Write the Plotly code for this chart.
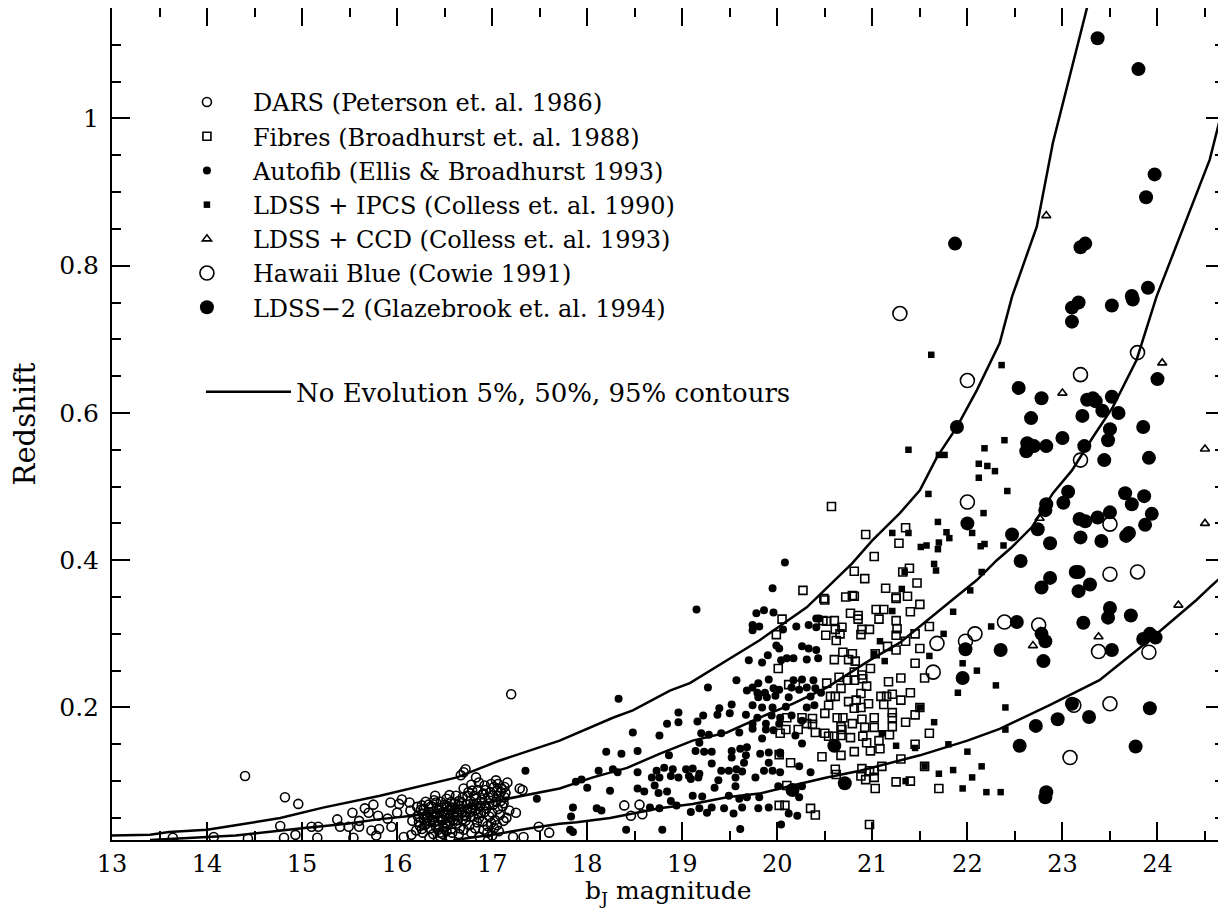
import plotly.graph_objects as go

# ---------------- data ----------------
dars_pts = [(13.64,0.023),(14.07,0.024),(14.43,0.022),(14.40,0.107),(14.81,0.023),(14.82,0.078),(14.96,0.069),(14.77,0.039),
 (14.93,0.027),(15.10,0.038),(15.17,0.038),(15.16,0.023),(15.37,0.048),(15.40,0.038),(15.49,0.038),(15.53,0.057),(15.54,0.023),
 (15.60,0.046),(15.60,0.038),(15.66,0.063),(15.70,0.057),(15.73,0.033),(15.75,0.068),(15.78,0.026),(15.80,0.053),(15.81,0.035),
 (15.90,0.049),(15.93,0.071),(15.94,0.038),(16.00,0.057),(16.02,0.069),(16.05,0.075),(16.07,0.024),(16.13,0.071),(16.14,0.060),
 (16.15,0.027),(16.16,0.046),(16.20,0.033),(16.24,0.039),(16.26,0.067),(16.27,0.056),(16.31,0.042),(16.41,0.071),(16.42,0.056),
 (16.43,0.046),(16.47,0.064),(16.49,0.037),(16.52,0.076),(16.54,0.050),(16.58,0.064),(16.62,0.042),(16.65,0.073),(16.67,0.108),
 (16.68,0.057),(16.70,0.090),(16.70,0.112),(16.72,0.046),(16.72,0.116),(16.77,0.073),(16.79,0.064),(16.83,0.105),(16.86,0.098),
 (16.86,0.050),(16.87,0.024),(16.91,0.083),(16.93,0.067),(16.95,0.039),(17.00,0.057),(17.00,0.026),(17.04,0.101),(17.05,0.087),
 (17.09,0.073),(17.12,0.046),(17.16,0.098),(17.18,0.060),(17.20,0.218),(17.22,0.024),(17.25,0.057),(17.29,0.090),(17.32,0.088),
 (17.33,0.024),(17.49,0.038),(18.39,0.067),(18.55,0.068),(18.46,0.053),(18.58,0.055),
 (16.22,0.052),(16.25,0.061),(16.28,0.048),(16.30,0.072),(16.33,0.058),(16.35,0.036),(16.36,0.066),(16.38,0.051),(16.39,0.044),
 (16.40,0.080),(16.44,0.062),(16.45,0.030),(16.46,0.049),(16.48,0.058),(16.50,0.068),(16.51,0.043),(16.53,0.055),(16.55,0.081),
 (16.56,0.062),(16.57,0.035),(16.60,0.052),(16.61,0.070),(16.63,0.058),(16.64,0.047),(16.66,0.066),(16.69,0.078),(16.71,0.054),
 (16.74,0.062),(16.75,0.085),(16.76,0.040),(16.78,0.095),(16.80,0.052),(16.81,0.080),(16.82,0.060),(16.84,0.070),(16.85,0.088),
 (16.88,0.058),(16.89,0.075),(16.90,0.045),(16.92,0.094),(16.94,0.063),(16.96,0.078),(16.97,0.052),(16.98,0.085),(17.01,0.068),
 (17.02,0.092),(17.03,0.047),(17.06,0.062),(17.07,0.080),(17.08,0.054),(17.10,0.090),(17.11,0.066),(17.13,0.078),(17.14,0.084),
 (17.15,0.050),(16.34,0.023),(16.56,0.024),(16.65,0.028),(16.78,0.030),(16.95,0.030),(17.07,0.032),(16.45,0.025),(17.60,0.030),
 (16.29,0.040),(16.37,0.047),(16.41,0.038),(16.47,0.052),(16.53,0.041),(16.59,0.047),(16.66,0.036),(16.73,0.052),(16.84,0.044),
 (16.99,0.043),(17.05,0.040),(16.32,0.050),(16.43,0.034),(16.52,0.032),
 (16.21,0.065),(16.23,0.044),(16.26,0.035),(16.28,0.062),(16.31,0.054),(16.33,0.068),(16.34,0.045),(16.37,0.058),(16.39,0.074),
 (16.40,0.053),(16.42,0.064),(16.44,0.040),(16.46,0.072),(16.48,0.047),(16.50,0.056),(16.52,0.066),(16.54,0.060),(16.55,0.045),
 (16.57,0.072),(16.59,0.055),(16.61,0.062),(16.62,0.080),(16.64,0.054),(16.67,0.062),(16.68,0.070),(16.69,0.048),(16.73,0.068),
 (16.74,0.080),(16.77,0.058),(16.79,0.087),(16.80,0.068),(16.83,0.076),(16.85,0.056),(16.87,0.066),(16.90,0.082),(16.92,0.058),
 (16.93,0.088),(16.97,0.070),(16.99,0.096),(17.01,0.080),(17.04,0.072),(17.06,0.096),(17.09,0.085),(17.12,0.070),(17.13,0.092),
 (16.58,0.030),(16.70,0.034),(16.82,0.036),(16.91,0.034),(17.02,0.036),(16.27,0.030),(16.38,0.028),(16.48,0.028)]

fibres_pts = [(21.02,0.405),(20.81,0.385),(20.92,0.375),(21.14,0.362),(20.27,0.359),(20.50,0.346),(20.72,0.350),(20.81,0.351),
 (21.25,0.348),(21.04,0.333),(21.12,0.333),(20.77,0.328),(20.85,0.325),(20.85,0.320),(20.05,0.320),(20.48,0.318),(20.52,0.317),
 (20.60,0.318),(21.07,0.320),(21.25,0.318),(20.61,0.306),(20.68,0.309),(20.89,0.306),(20.97,0.306),(21.26,0.307),(19.99,0.299),
 (20.51,0.298),(20.66,0.300),(20.88,0.299),(21.25,0.298),(20.62,0.291),(20.69,0.275),(20.79,0.273),(21.03,0.273),(21.16,0.283),
 (21.25,0.278),(20.60,0.265),(20.75,0.265),(20.82,0.263),(20.01,0.253),(20.98,0.253),(20.81,0.248),(20.89,0.244),(20.65,0.241),
 (20.74,0.237),(20.81,0.237),(20.90,0.239),(20.94,0.229),(21.17,0.235),(20.12,0.231),(20.19,0.231),(20.52,0.233),(20.67,0.226),
 (20.88,0.219),(20.56,0.215),(20.61,0.215),(21.09,0.215),(21.15,0.215),(21.21,0.218),(20.75,0.208),(20.83,0.210),(20.96,0.205),
 (21.12,0.204),(20.54,0.203),(20.81,0.199),(20.88,0.200),(20.50,0.192),(21.21,0.193),(20.10,0.186),(20.26,0.186),(20.37,0.185),
 (20.63,0.186),(20.69,0.186),(20.89,0.184),(21.02,0.186),(21.21,0.186),(20.31,0.178),(20.79,0.178),(20.37,0.177),(21.21,0.174),
 (20.67,0.174),(20.68,0.170),(20.92,0.173),(21.02,0.173),(20.03,0.165),(20.09,0.170),(20.22,0.170),(20.40,0.166),(20.50,0.165),
 (20.54,0.161),(20.60,0.161),(20.67,0.162),(20.77,0.159),(20.90,0.161),(21.18,0.163),(20.94,0.152),(21.07,0.155),(20.98,0.141),
 (21.08,0.144),(20.81,0.140),(20.67,0.135),(20.02,0.136),(20.14,0.125),(20.47,0.133),(20.61,0.116),(20.62,0.109),(20.89,0.117),
 (20.97,0.114),(21.02,0.114),(21.10,0.120),(20.88,0.107),(20.93,0.102),(21.02,0.105),(21.25,0.099),(20.10,0.094),(21.03,0.090),
 (20.02,0.067),(20.08,0.067),(20.35,0.063),(20.40,0.054),(20.97,0.041),
 (20.57,0.473),(20.93,0.435),(21.35,0.444),(21.28,0.423),(21.39,0.389),(21.32,0.384),(21.47,0.369),(21.25,0.350),(20.79,0.352),
 (21.37,0.351),(20.49,0.348),(21.40,0.330),(21.45,0.300),(21.50,0.280),(21.45,0.260),(21.55,0.240),(21.40,0.220),(21.50,0.200),
 (21.35,0.180),(21.60,0.165),(21.45,0.150),(21.30,0.130),(21.55,0.120),(21.40,0.100),(21.70,0.090),(21.30,0.240),(21.35,0.290),
 (21.60,0.310),(21.30,0.210),(21.45,0.190),(21.50,0.340)]

autofib_pts = [(20.08,0.397),(19.95,0.362),(19.15,0.333),(19.78,0.328),(19.86,0.332),(19.96,0.329),(19.74,0.312),(19.81,0.310),
 (19.74,0.305),(20.06,0.306),(20.20,0.310),(20.33,0.312),(20.41,0.309),(20.41,0.321),(20.44,0.321),(19.99,0.284),(20.02,0.280),
 (20.26,0.283),(20.33,0.280),(20.41,0.278),(19.90,0.271),(19.70,0.264),(19.84,0.261),(20.04,0.264),(20.10,0.267),(20.17,0.267),
 (20.31,0.265),(20.43,0.267),(18.33,0.212),(19.27,0.227),(19.57,0.237),(19.74,0.227),(19.80,0.233),(19.91,0.238),(19.68,0.223),
 (19.79,0.220),(19.87,0.220),(19.96,0.226),(20.02,0.224),(20.17,0.237),(20.26,0.238),(20.38,0.237),(20.15,0.227),(20.23,0.224),
 (20.31,0.227),(20.40,0.226),(20.46,0.220),(19.80,0.214),(19.89,0.214),(19.98,0.216),(20.12,0.214),(20.35,0.215),(19.39,0.199),
 (19.52,0.204),(19.74,0.203),(19.84,0.200),(19.95,0.200),(20.09,0.201),(20.31,0.200),(20.39,0.203),(18.96,0.193),(19.22,0.189),
 (19.37,0.190),(19.50,0.192),(19.67,0.190),(19.79,0.186),(19.94,0.189),(20.03,0.186),(20.15,0.189),(20.26,0.182),(18.84,0.178),
 (18.96,0.180),(19.16,0.181),(19.74,0.178),(19.88,0.178),(20.02,0.178),(18.48,0.166),(18.76,0.162),(19.60,0.166),(19.74,0.171),
 (19.88,0.170),(19.96,0.169),(20.19,0.162),(19.20,0.165),(19.28,0.163),(19.41,0.165),(19.84,0.158),(19.18,0.152),(20.26,0.151),
 (18.20,0.140),(18.36,0.137),(18.53,0.141),(18.86,0.135),(19.14,0.141),(19.23,0.140),(19.31,0.140),(19.52,0.141),(19.61,0.144),
 (19.68,0.146),(19.52,0.132),(19.67,0.135),(19.82,0.137),(19.91,0.139),(20.03,0.137),(19.65,0.125),(19.91,0.125),(19.31,0.124),
 (18.12,0.114),(18.27,0.116),(18.32,0.112),(18.53,0.112),(18.73,0.114),(18.81,0.118),(18.90,0.116),(19.04,0.116),(19.11,0.117),
 (19.18,0.110),(19.41,0.114),(19.49,0.114),(19.57,0.116),(19.63,0.113),(19.86,0.114),(19.95,0.114),(20.03,0.112),(20.23,0.120),
 (20.35,0.112),(18.68,0.105),(18.76,0.105),(18.88,0.107),(18.96,0.105),(19.07,0.107),(19.09,0.103),(19.17,0.105),(19.38,0.101),
 (19.56,0.105),(19.77,0.105),(18.71,0.094),(17.88,0.099),(17.94,0.102),(18.00,0.091),(18.24,0.087),(18.53,0.090),(18.60,0.086),
 (18.75,0.084),(18.84,0.086),(19.34,0.091),(19.56,0.093),(20.01,0.093),(20.15,0.090),(20.26,0.093),(18.88,0.073),(19.11,0.080),
 (19.21,0.079),(19.49,0.080),(19.60,0.076),(19.68,0.078),(19.81,0.078),(20.23,0.078),(17.85,0.064),(18.10,0.063),(18.15,0.060),
 (18.66,0.064),(18.76,0.063),(18.94,0.067),(19.09,0.058),(19.18,0.063),(19.26,0.057),(19.31,0.064),(19.44,0.063),(19.54,0.056),
 (19.63,0.064),(19.80,0.063),(19.91,0.064),(20.12,0.056),(20.21,0.053),(17.83,0.052),(20.04,0.041),(18.41,0.034),(18.79,0.034),
 (19.61,0.035),(17.82,0.034),(17.85,0.031),(17.35,0.114),(17.47,0.076),(20.03,0.139)]

ipcs_pts = [(21.62,0.679),(22.36,0.665),(21.38,0.550),(21.70,0.543),(21.76,0.543),(22.18,0.552),(22.39,0.563),(22.12,0.531),
 (22.21,0.528),(22.29,0.521),(22.12,0.512),(22.42,0.494),(21.59,0.490),(22.17,0.464),(21.69,0.452),(21.21,0.437),(21.38,0.437),
 (21.78,0.438),(21.81,0.430),(22.05,0.437),(21.70,0.424),(21.69,0.415),(21.51,0.418),(21.57,0.420),(22.14,0.419),(22.18,0.422),
 (22.38,0.420),(21.65,0.395),(21.67,0.386),(22.15,0.384),(22.03,0.359),(21.31,0.361),(21.34,0.384),(21.21,0.331),(21.08,0.290),
 (21.13,0.263),(21.02,0.273),(21.10,0.165),(21.25,0.148),(21.85,0.330),(21.75,0.300),(21.60,0.270),(22.10,0.250),(22.30,0.230),
 (21.90,0.220),(21.50,0.200),(21.65,0.180),(21.80,0.150),(22.00,0.140),(22.15,0.120),(21.55,0.120),(21.70,0.110),(21.95,0.090),
 (22.20,0.085),(22.35,0.085),(21.35,0.100),(22.40,0.170),(21.95,0.260),(22.25,0.310),(22.40,0.200),(21.85,0.115),(22.05,0.105),
 (21.45,0.145)]

ccd_pts = [(22.83,0.868),(24.05,0.668),(23.00,0.627),(24.50,0.551),(24.50,0.450),(22.76,0.457),(24.22,0.339),(23.38,0.296),
 (22.69,0.284),(22.77,0.303)]

hawaii_pts = [(21.29,0.735),(22.00,0.644),(22.00,0.479),(23.79,0.682),(23.19,0.652),(23.19,0.536),(23.50,0.449),(23.50,0.381),
 (23.79,0.384),(21.68,0.287),(21.64,0.248),(21.98,0.290),(22.08,0.300),(22.39,0.316),(22.75,0.312),(23.38,0.276),(23.91,0.275),
 (23.12,0.203),(23.50,0.205),(23.08,0.132)]

ldss2_pts = [(23.10,0.743),(23.17,0.750),(23.10,0.724),(23.52,0.746),(23.74,0.754),(24.00,0.646),(22.54,0.634),(22.78,0.620),
 (22.67,0.593),(23.26,0.618),(23.32,0.620),(23.35,0.616),(23.52,0.622),(23.42,0.603),(23.59,0.600),(23.21,0.596),(23.50,0.578),
 (23.85,0.581),(21.89,0.581),(23.00,0.566),(22.63,0.559),(22.70,0.555),(22.62,0.548),(22.83,0.555),(23.23,0.555),(23.48,0.563),
 (23.44,0.536),(23.91,0.539),(22.00,0.450),(22.47,0.435),(22.83,0.476),(22.82,0.468),(22.74,0.442),(23.01,0.478),(23.06,0.493),
 (22.87,0.423),(23.18,0.456),(23.24,0.453),(23.37,0.458),(23.50,0.465),(23.19,0.431),(23.41,0.426),(23.66,0.491),(23.73,0.476),
 (23.86,0.487),(23.94,0.463),(23.87,0.448),(23.67,0.433),(23.70,0.437),(22.56,0.399),(23.14,0.384),(23.17,0.384),(22.87,0.376),
 (22.78,0.363),(23.29,0.367),(23.17,0.358),(23.37,1.109),(23.80,1.067),(23.97,0.924),(23.88,0.893),(21.87,0.830),(23.19,0.825),
 (23.24,0.830),(23.90,0.770),(23.73,0.759),
 (22.35,0.278),(22.52,0.316),(22.55,0.148),(22.72,0.175),(22.78,0.300),(22.82,0.290),(22.80,0.263),(22.83,0.085),(22.82,0.078),
 (22.95,0.184),(23.10,0.205),(23.22,0.315),(23.28,0.187),(23.50,0.335),(23.48,0.322),(23.52,0.278),(23.72,0.325),(23.77,0.147),
 (23.85,0.293),(23.92,0.300),(23.98,0.295),(23.92,0.199),(21.95,0.240),(21.98,0.279),(20.60,0.148),(20.16,0.088),(20.71,0.097)]

# No-evolution contours (95%, 50%, 5%)
c95_x = [13.0,13.4,13.6,14.0,14.3,14.5,14.77,15.22,15.82,16.63,17.08,17.71,17.89,18.27,18.48,18.87,19.08,19.47,19.81,20.31,20.79,
         21.0,21.29,21.50,21.68,21.89,22.10,22.34,22.47,22.73,22.90,23.26]
c95_y = [0.026,0.027,0.031,0.034,0.040,0.044,0.050,0.064,0.080,0.105,0.128,0.155,0.165,0.186,0.196,0.223,0.233,0.264,0.291,0.336,0.396,
         0.427,0.464,0.495,0.540,0.581,0.631,0.695,0.758,0.853,0.967,1.151]
c50_x = [13.4,13.8,14.0,14.3,14.77,15.0,15.47,15.8,16.16,16.6,17.0,17.4,17.71,18.06,18.42,18.76,19.11,19.47,19.81,20.16,20.52,20.97,
         21.29,21.84,22.10,22.31,22.47,22.68,22.90,23.10,23.32,23.53,23.78,23.99,24.55,24.71]
c50_y = [0.020,0.022,0.024,0.026,0.033,0.036,0.042,0.048,0.053,0.062,0.072,0.082,0.090,0.105,0.118,0.137,0.155,0.166,0.186,0.205,0.227,
         0.264,0.288,0.346,0.373,0.400,0.418,0.445,0.491,0.522,0.567,0.608,0.672,0.758,0.944,1.026]
c05_x = [16.6,17.0,17.4,17.71,17.89,18.24,18.76,19.11,19.47,19.81,20.16,20.52,20.87,21.29,21.5,22.0,22.34,22.86,23.39,23.91,24.41,
         24.55,24.71]
c05_y = [0.020,0.027,0.036,0.042,0.044,0.050,0.063,0.069,0.078,0.083,0.094,0.105,0.114,0.128,0.135,0.155,0.171,0.203,0.237,0.291,
         0.346,0.363,0.382]

x_range = [13, 24.7]
y_range = [0.02, 1.15]
x_title = "b<sub>J</sub> magnitude"
y_title = "Redshift"

FONT = "DejaVu Serif"
fig = go.Figure()

def add_series(pts, name, symbol, size, lw=1.6):
    xs = [p[0] for p in pts]
    ys = [p[1] for p in pts]
    fig.add_trace(go.Scatter(
        x=xs, y=ys, mode="markers", name=name, legendgroup=name,
        marker=dict(symbol=symbol, size=size, color="black",
                    line=dict(color="black", width=lw)),
    ))

add_series(dars_pts, "DARS (Peterson et. al. 1986)", "circle-open", 9)
add_series(fibres_pts, "Fibres (Broadhurst et. al. 1988)", "square-open", 8)
add_series(autofib_pts, "Autofib (Ellis & Broadhurst 1993)", "circle", 8, 0)
add_series(ipcs_pts, "LDSS + IPCS (Colless et. al. 1990)", "square", 6.5, 0)
add_series(ccd_pts, "LDSS + CCD (Colless et. al. 1993)", "triangle-up-open", 8)
add_series(hawaii_pts, "Hawaii Blue (Cowie 1991)", "circle-open", 14)
add_series(ldss2_pts, "LDSS−2 (Glazebrook et. al. 1994)", "circle", 14, 0)

for i, (cx, cy) in enumerate([(c95_x, c95_y), (c50_x, c50_y), (c05_x, c05_y)]):
    fig.add_trace(go.Scatter(
        x=cx, y=cy, mode="lines", line=dict(color="black", width=2.5),
        name="No Evolution 5%, 50%, 95% contours", legend="legend2",
        legendgroup="contours", showlegend=(i == 0),
    ))

axis_common = dict(
    showline=True, linecolor="black", linewidth=2, mirror="allticks",
    ticks="inside", ticklen=18, tickwidth=1.5, tickcolor="black",
    showgrid=False, zeroline=False, automargin=False,
    tickfont=dict(family=FONT, size=25, color="black"),
    title_font=dict(family=FONT, size=29, color="black"),
)

fig.update_xaxes(range=x_range, dtick=1, tick0=13,
                 minor=dict(dtick=0.5, ticklen=9, ticks="inside", tickcolor="black", tickwidth=1.5),
                 tickfont=dict(family=FONT, size=24, color="black"), ticklabelstandoff=1,
                 **{k: v for k, v in axis_common.items() if k != "tickfont"})
fig.update_yaxes(range=y_range, dtick=0.2, tick0=0,
                 minor=dict(dtick=0.05, ticklen=9, ticks="inside", tickcolor="black", tickwidth=1.5),
                 title_text=y_title, title_standoff=16, ticklabelstandoff=6, **axis_common)

# x-axis title as a paper-anchored annotation so it can sit just below the tick labels
fig.add_annotation(text=x_title, xref="paper", yref="paper", x=0.5, y=0,
                   xanchor="center", yanchor="top", yshift=-35, showarrow=False,
                   borderpad=0, font=dict(family=FONT, size=25, color="black"))

fig.update_layout(
    width=1218, height=901,
    margin=dict(l=104, r=2, t=0, b=69),
    paper_bgcolor="white", plot_bgcolor="white",
    font=dict(family=FONT, color="black"),
    showlegend=True,
    legend=dict(x=0.044, y=0.9135, xanchor="left", yanchor="top",
                bgcolor="rgba(0,0,0,0)", font=dict(family=FONT, size=24, color="black"),
                itemwidth=82, tracegroupgap=0, traceorder="normal", itemsizing="trace"),
    legend2=dict(x=0.080, y=0.567, xanchor="left", yanchor="top",
                 bgcolor="rgba(0,0,0,0)", font=dict(family=FONT, size=26, color="black"),
                 itemwidth=85),
)

fig.write_html("out.html")
